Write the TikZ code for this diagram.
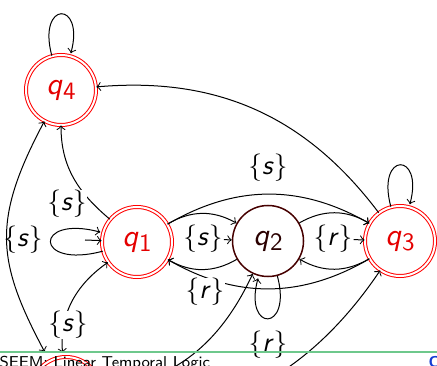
\documentclass[tikz,border=0pt]{standalone}
\usepackage{tikz}
\usetikzlibrary{arrows.meta,calc}

\definecolor{accred}{RGB}{228,0,0}
\definecolor{stdark}{RGB}{70,0,0}
\definecolor{footgreen}{RGB}{110,200,140}
\definecolor{footblue}{RGB}{20,60,210}

\newcommand{\qlab}[1]{\textit{q}\kern0.3pt\raisebox{-0.4ex}{\fontsize{10}{12}\selectfont #1}}
\newcommand{\lset}[1]{$\{$\textit{#1}$\}$}

\begin{document}
\begin{tikzpicture}[
		x=0.4pt,
		y=0.4pt,
		font=\sffamily,
		>=to,
		acc/.style={circle, draw=red, double=white, double distance=0.8pt, line width=0.4pt,
			minimum size=28pt, inner sep=0pt, text=accred, font=\sffamily\fontsize{12.5}{14}\selectfont},
		plain/.style={circle, draw=stdark, line width=0.6pt, minimum size=28.4pt, inner sep=0pt,
			text=stdark!60!black, font=\sffamily\fontsize{12.5}{14}\selectfont},
		lbl/.style={fill=white, inner sep=0.3pt, font=\sffamily\fontsize{11}{13}\selectfont}
		]
		\useasboundingbox (0,0) rectangle (437,365);
		\clip (0,0) rectangle (437,365);
		
		% states
		\node[acc] (q4) at (61,275) {\qlab{4}};
		\node[acc] (q1) at (137,123) {\qlab{1}};
		\node[plain] (q2) at (268,124) {\qlab{2}};
		\node[acc] (q3) at (400,124) {\qlab{3}};
		\node[acc] (q0) at (66,-27) {};
		\coordinate (q1in) at (85,125);
		
		% loops
		\draw (q4) edge[loop above] ();
		\draw (q3) edge[loop above] ();
		\draw[->, shorten >=1pt] (q1) to[out=195, in=165, looseness=10, min distance=5mm] (q1);
		\draw (q2) edge[loop below] ();
		\draw[->] (q1in) -- (q1);
		
		% arcs between q1, q2, q3
		\draw[->] (q1) to[bend left=30] (q2);
		\draw[->] (q2) to[bend left=30] (q1);
		\draw[->] (q2) to[bend left=30] (q3);
		\draw[->] (q3) to[bend left=30] (q2);
		\draw[->] (q1) to[bend left=30] (q3);
		\draw[->] (q3) to[bend left=30] (q1);
		
		% back to q4
		\draw[->] (q3) to[out=127, in=5] (q4);
		\draw[->] (q1) to[out=140, in=-90] (q4);
		
		% to and from q0
		\draw[<->, shorten >=4pt] (q4) to[out=242, in=118, looseness=1.2] (q0);
		\draw[<->, shorten >=1.5pt] (q1) to[out=215, in=95] (q0);
		\draw[->] (q0) to[out=5, in=245] (q2);
		\draw[->] (q0) to[out=-15, in=236] (q3);
		
		% labels
		\node[lbl, fill=none] (ls1) at (23,125) {\lset{s}};
		\node[lbl] (ls2) at (67,161) {\lset{s}};
		\node[lbl] (ls10) at (68,40) {\lset{s}};
		\node[lbl] (ls13) at (268,197) {\lset{s}};
		\node[lbl] (lr21) at (205,73) {\lset{r}};
		\node[lbl] (lr22) at (268,20) {\lset{r}};
		\node[lbl] (ls12) at (203,126) {\lset{s}};
		\node[lbl] (lr23) at (333,126) {\lset{r}};
		\draw[->] (ls12) -- (q2);
		\draw[->] (lr23) -- (q3);
		
		% footer
		\draw[footgreen, line width=0.8pt] (0,13) -- (437,13);
		\node[anchor=base west, inner sep=0pt, font=\sffamily\fontsize{6.3}{8}\selectfont] (foot) at (-1,-2) {SEEM: Linear Temporal Logic};
		\node[anchor=base west, inner sep=0pt, text=footblue, font=\sffamily\bfseries\fontsize{6.3}{8}\selectfont] (footr) at (428,-2) {C};
		
	\end{tikzpicture}
\end{document}
